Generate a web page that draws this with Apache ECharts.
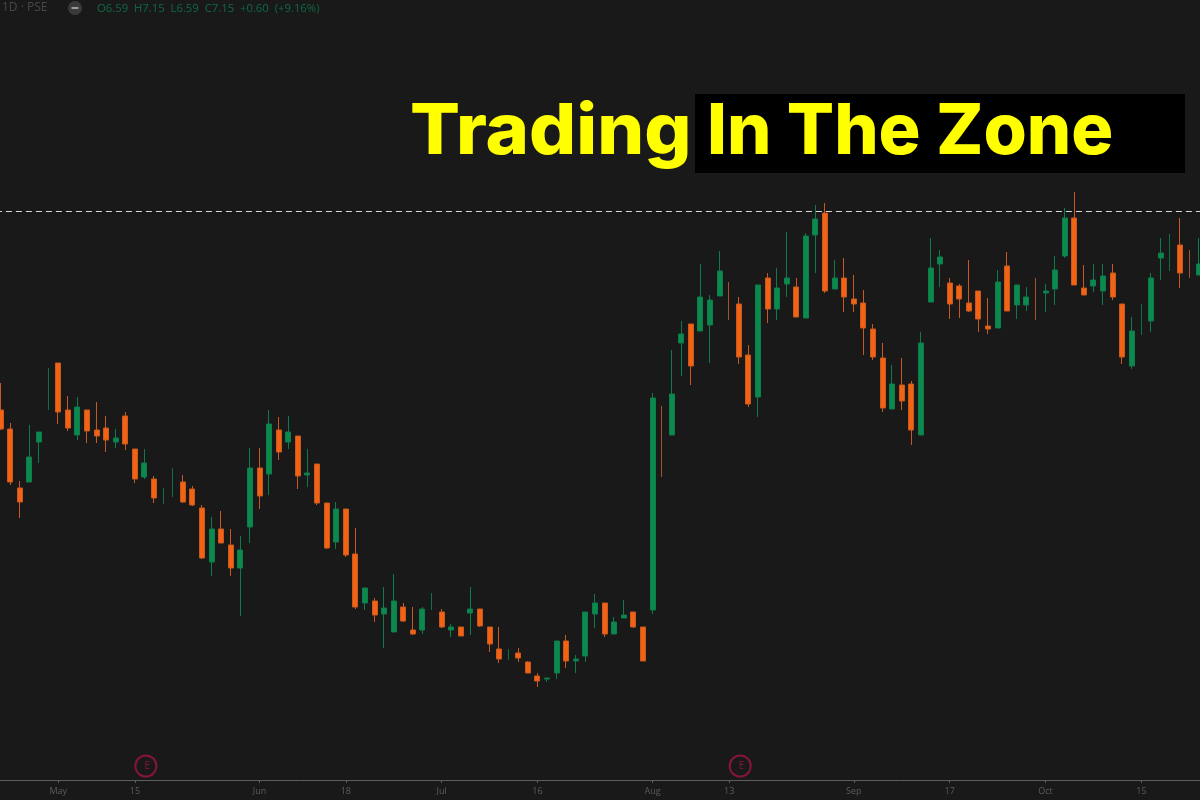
<!DOCTYPE html>
<html><head><meta charset="utf-8">
<style>html,body{margin:0;padding:0;background:#191919}#c{width:1200px;height:800px}</style>
<script src="https://cdn.jsdelivr.net/npm/echarts@6/dist/echarts.min.js"></script>
</head><body><div id="c"></div>
<script>
// G = green (close above open), O = orange (close below open)
const direction = ("OOOGGGOOGOOOGOOGOGGO"+"OOGOOGGOGOGOGOOGOOGO"+"GGOOGGOGOGOOOGOOOGGO"+"GGGOGGOOGOGGOGGGOOOG"+"OGGOGGOGOOOOOGOOGGGO"+"OOOOGOGGOGGGOOGGOOGG"+"GGGOOG").split("");
const highs = [5.97,5.57,4.99,5.55,5.48,6.12,6.17,5.84,5.83,5.70,5.78,5.64,5.51,5.68,5.31,5.31,5.04,4.92,5.12,5.05,4.94,4.75,4.63,4.69,4.51,4.44,5.32,5.32,5.70,5.63,5.64,5.44,5.31,5.16,4.77,4.78,4.71,4.52,3.92,3.82,3.93,4.06,3.77,3.73,3.73,3.87,3.71,3.56,3.53,3.93,3.71,3.53,3.53,3.31,3.32,3.19,3.07,3.02,3.39,3.45,3.25,3.68,3.86,3.77,3.63,3.80,3.68,3.53,5.87,5.74,6.30,6.59,6.56,7.16,6.85,7.29,6.98,6.83,6.35,6.95,7.07,7.12,7.48,7.02,7.47,7.75,7.77,7.20,7.22,7.05,6.90,6.56,6.37,6.15,6.22,5.99,6.48,7.42,7.30,7.02,6.96,7.20,6.89,6.82,7.10,7.28,6.95,6.93,7.02,6.96,7.24,7.72,7.88,7.15,7.16,7.16,7.16,6.76,6.63,6.76,7.07,7.42,7.46,7.62,7.30,7.42];
const bodyTops = [5.70,5.51,4.92,5.23,5.48,5.71,6.17,5.70,5.73,5.70,5.50,5.52,5.42,5.64,5.31,5.17,5.01,4.77,4.84,4.98,4.91,4.72,4.51,4.51,4.35,4.30,5.12,5.12,5.56,5.50,5.48,5.44,5.07,5.16,4.77,4.71,4.71,4.26,3.92,3.79,3.72,3.79,3.73,3.50,3.71,3.71,3.68,3.53,3.53,3.71,3.71,3.53,3.31,3.21,3.27,3.18,3.04,3.02,3.39,3.39,3.21,3.68,3.77,3.77,3.58,3.65,3.68,3.53,5.82,5.74,5.86,6.46,6.56,6.83,6.80,7.09,6.98,6.76,6.25,6.95,7.02,6.92,7.02,6.93,7.44,7.61,7.67,7.02,7.02,6.81,6.77,6.51,6.22,5.96,5.95,5.96,6.37,7.12,7.23,6.97,6.94,6.77,6.89,6.54,6.98,7.14,6.95,6.83,6.72,6.89,7.10,7.62,7.62,6.92,7.00,7.04,7.07,6.76,6.49,6.46,7.02,7.27,7.10,7.35,7.07,7.16];
const bodyBottoms = [5.51,4.98,4.78,4.98,5.38,5.70,5.68,5.52,5.45,5.49,5.44,5.40,5.38,5.36,5.01,5.03,4.82,4.76,4.83,4.78,4.75,4.22,4.18,4.37,4.12,4.12,4.53,4.84,5.06,5.28,5.38,5.04,5.05,4.77,4.32,4.38,4.25,3.73,3.77,3.65,3.66,3.48,3.59,3.46,3.50,3.70,3.53,3.50,3.44,3.67,3.54,3.36,3.21,3.20,3.22,3.07,2.99,3.01,3.07,3.19,3.19,3.24,3.66,3.46,3.46,3.62,3.53,3.19,3.70,5.73,5.45,6.37,6.14,6.49,6.55,6.84,6.97,6.23,5.76,5.83,6.71,6.71,6.96,6.63,6.62,7.45,6.89,6.91,6.83,6.76,6.52,6.23,5.72,5.71,5.79,5.50,5.45,6.78,7.16,6.76,6.81,6.69,6.61,6.51,6.52,6.69,6.75,6.75,6.71,6.87,6.91,7.24,6.95,6.85,6.94,6.89,6.83,6.23,6.14,6.45,6.59,7.22,7.09,7.07,7.06,7.05];
const lows = [5.50,4.95,4.62,4.98,5.17,5.70,5.56,5.49,5.40,5.37,5.37,5.28,5.32,5.30,4.97,5.01,4.77,4.76,4.83,4.77,4.74,4.21,4.04,4.37,4.04,3.64,4.37,4.71,4.85,5.20,5.31,4.91,4.93,4.75,4.31,4.31,4.23,3.71,3.70,3.58,3.32,3.48,3.58,3.45,3.46,3.70,3.52,3.43,3.44,3.45,3.53,3.28,3.17,3.20,3.18,3.07,2.93,2.98,3.01,3.12,3.07,3.18,3.52,3.43,3.46,3.62,3.52,3.19,3.66,5.03,5.45,6.04,5.95,6.49,6.17,6.84,6.60,6.16,5.73,5.63,6.57,6.60,6.83,6.63,6.62,7.07,6.87,6.91,6.68,6.68,6.25,6.20,5.68,5.71,5.70,5.35,5.45,6.78,6.93,6.61,6.62,6.68,6.48,6.46,6.52,6.69,6.61,6.69,6.60,6.68,6.75,7.22,6.95,6.85,6.88,6.75,6.80,6.16,6.11,6.45,6.48,7.00,7.09,6.92,7.02,7.05];
// candles that show only a wick, with no visible body width
const wickOnly = [5,17,18,45,53,69,76,108,119,122,124];
const tickIndex = [6,14,27,36,46,56,68,76,89,99,109,119];
const tickLabels = ["May","15","Jun","18","Jul","16","Aug","13","Sep","17","Oct","15"];
const earningsIndex = [15,77];
const earningsLevel = 2.14;
const resistanceLevel = 7.69;
const categories = highs.map((_, i) => { const k = tickIndex.indexOf(i); return k >= 0 ? tickLabels[k] : "d" + i; });

const candle = i => direction[i] === "G"
  ? [bodyBottoms[i], bodyTops[i], lows[i], highs[i]]
  : [bodyTops[i], bodyBottoms[i], lows[i], highs[i]];
const wide = highs.map((_, i) => wickOnly.includes(i) ? ["-","-","-","-"] : candle(i));
const thin = highs.map((_, i) => wickOnly.includes(i) ? candle(i) : ["-","-","-","-"]);

const chart = echarts.init(document.getElementById("c"));
const isTick = i => tickIndex.includes(i);
const heading = {fill:"#ffff00",font:"800 70px Inter",textVerticalAlign:"top"};
chart.setOption({
  animation: false,
  backgroundColor: "#191919",
  title: [
    {text:"1D · PSE", left:2, top:2, textStyle:{color:"#484848",fontFamily:"Open Sans",fontWeight:400,fontSize:12}, padding:0},
    {text:"O6.59  H7.15  L6.59  C7.15  +0.60  (+9.16%)", left:97, top:3, textStyle:{color:"#0f6a42",fontFamily:"Open Sans",fontWeight:400,fontSize:11.3}, padding:0}
  ],
  graphic: [
    {type:"rect", shape:{x:695,y:94,width:490,height:79}, style:{fill:"#000"}, z:5},
    {type:"text", x:410, y:98, scaleX:1.057, style:Object.assign({text:"Trading"},heading), z:10},
    {type:"text", x:707, y:98, style:Object.assign({text:"In The Zone"},heading), z:10},
    {type:"circle", shape:{cx:75,cy:8,r:7}, style:{fill:"#3a3a3a"}, z:5},
    {type:"rect", shape:{x:71.5,y:7,width:7,height:2}, style:{fill:"#9a9a9a"}, z:6}
  ],
  grid: {left:-4.1, width:1207.8, top:0, height:780, containLabel:false, outerBoundsMode:"none"},
  xAxis: {
    type:"category", data:categories, boundaryGap:true,
    axisLine:{lineStyle:{color:"#5e5e5e",width:1}},
    axisTick:{show:true, alignWithLabel:true, interval:isTick, length:3, lineStyle:{color:"#5e5e5e"}},
    axisLabel:{interval:isTick, color:"#5c5c5c", fontSize:9, fontFamily:"Open Sans", margin:7},
    splitLine:{show:false}
  },
  yAxis: {type:"value", show:false, min:2.0, max:9.8, splitLine:{show:false}},
  series: [
    {type:"candlestick", data:wide, barWidth:5.5,
     itemStyle:{color:"#0b8a4e",color0:"#f26414",borderColor:"#0f7a4a",borderColor0:"#c8581f",borderWidth:1},
     markLine:{silent:true,symbol:"none",label:{show:false},data:[{yAxis:resistanceLevel}],
       lineStyle:{color:"#d8d8d8",type:[6,4],width:1}},
     z:3},
    {type:"candlestick", data:thin, barWidth:1,
     itemStyle:{color:"#0f6f45",color0:"#a8502a",borderColor:"#0f6f45",borderColor0:"#a8502a",borderWidth:1},
     z:2},
    {type:"scatter", data:earningsIndex.map(i=>[i,earningsLevel]), symbol:"circle", symbolSize:21, symbolOffset:[1.4,0],
     itemStyle:{color:"rgba(0,0,0,0)",borderColor:"#a3143f",borderWidth:2},
     label:{show:true,position:"inside",offset:[1.4,0],formatter:"E",color:"#a3143f",fontSize:10,fontFamily:"Open Sans"}, z:4}
  ]
});
</script></body></html>
